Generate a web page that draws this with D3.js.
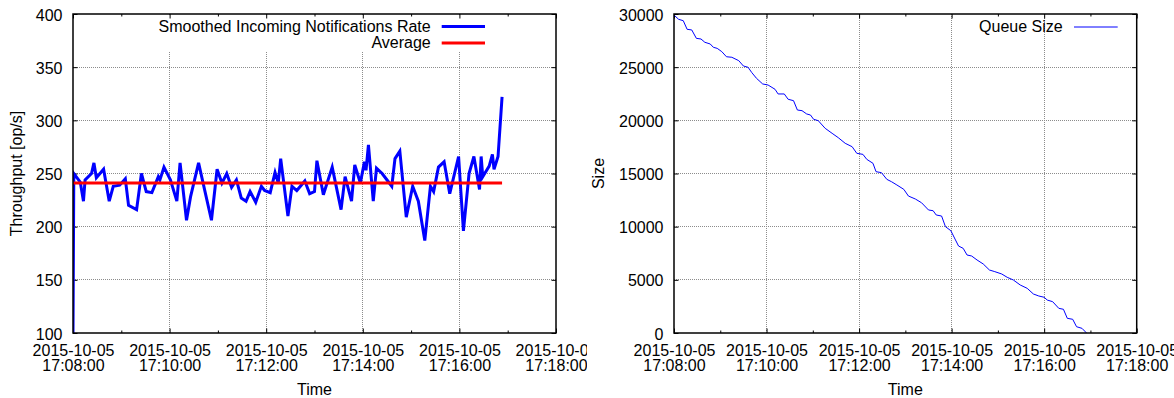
<!DOCTYPE html>
<html>
<head>
<meta charset="utf-8">
<script src="https://cdn.jsdelivr.net/npm/d3@7"></script>
<style>
    body { margin: 0; background: #fff; }
    #chart { width: 1174px; height: 398px; }
    svg { display: block; float: left; overflow: hidden; }
    text { font-family: "Liberation Sans", Arial, sans-serif; font-size: 16px; fill: #000; }
    .grid line { stroke: #8c8c8c; stroke-dasharray: 1,1; shape-rendering: crispEdges; }
    .tick line { stroke: #000; }
</style>
</head>
<body>
<div id="chart"></div>
<script>

// seconds after 17:08:00 and the smoothed rate at that moment
const rateSeconds = [0, 1, 9, 13, 15, 23, 26, 29, 38, 45, 50, 58, 65, 69, 79, 85, 91, 98, 106, 108,
    113, 121, 129, 133, 141, 146, 156, 164, 172, 179, 185, 191, 197, 203, 209, 215, 220, 227, 234, 238,
    245, 251, 255, 258, 267, 272, 278, 288, 294, 300, 303, 311, 322, 333, 338, 346, 350, 357, 362, 364,
    367, 373, 377, 384, 392, 396, 400, 406, 414, 422, 429, 437, 444, 448, 454, 461, 468, 479, 485, 492,
    498, 505, 507, 509, 517, 521, 523, 528, 533];
const rateValues = [100, 250, 242, 224, 244, 250, 260, 246, 254, 224, 238, 239, 245, 220, 216, 250, 233, 232, 247, 244,
    256, 244, 224, 260, 206, 228, 260, 233, 206, 254, 241, 250, 237, 244, 227, 224, 233, 223, 238, 234,
    232, 251, 241, 264, 210, 238, 234, 243, 231, 233, 262, 230, 256, 216, 247, 224, 258, 241, 261, 253,
    277, 224, 255, 250, 242, 238, 264, 271, 209, 238, 224, 187, 238, 233, 256, 261, 231, 266, 196, 250,
    266, 235, 266, 247, 257, 268, 254, 266, 322];
const rateAverage = 241;

// seconds after 17:08:00 and the queue size
const queueSeconds = [0, 6, 12, 17, 23, 29, 35, 40, 47, 51, 56, 62, 68, 75, 84, 90, 96, 101, 107, 115,
    122, 131, 135, 143, 148, 155, 160, 166, 172, 177, 181, 187, 196, 205, 213, 222, 231, 237, 245, 250,
    258, 262, 269, 276, 282, 289, 298, 304, 313, 321, 330, 336, 340, 347, 352, 359, 365, 369, 375, 380,
    386, 393, 401, 409, 416, 425, 432, 440, 449, 458, 466, 473, 480, 484, 491, 499, 505, 510, 517, 522,
    529, 535];
const queueValues = [29900, 29500, 29370, 28560, 28500, 27710, 27650, 27340, 27180, 26870, 26770, 26460, 25980, 25930, 25610, 25110, 24990, 24480, 23950, 23420,
    23320, 22920, 22480, 22480, 21980, 21850, 20970, 20910, 20600, 20500, 20100, 19970, 19250, 18780, 18370, 17840, 17520, 16900, 16800, 16330,
    15960, 15170, 15080, 14450, 14230, 13920, 13510, 12880, 12600, 12250, 11570, 11500, 11100, 11000, 10000, 9620, 8750, 8180, 7960, 7335,
    7240, 6865, 6490, 5925, 5770, 5550, 5240, 4985, 4514, 4200, 3670, 3480, 3360, 3100, 2945, 2320, 2230, 1380, 1290, 590,
    440, 0];

const rateTicks = [100, 150, 200, 250, 300, 350, 400];
const queueTicks = [0, 5000, 10000, 15000, 20000, 25000, 30000];

const startTime = new Date(2015, 9, 5, 17, 8, 0);
const endTime = new Date(2015, 9, 5, 17, 18, 0);

const toDate = s => new Date(startTime.getTime() + s * 1000);
const fmtDay = d3.timeFormat("%Y-%m-%d"),
      fmtTime = d3.timeFormat("%H:%M:%S");

function timePanel(opts) {

    let m = opts.plot;

    let svg = d3.select("#chart").append("svg")
        .attr("width", 587)
        .attr("height", 398);

    let x = d3.scaleTime().domain([startTime, endTime]).range([m.left, m.right]);
    let y = d3.scaleLinear().domain(d3.extent(opts.yTicks)).range([m.bottom, m.top]);

    let majorX = d3.timeMinute.every(2).range(startTime, new Date(endTime.getTime() + 1));
    let minorX = d3.timeMinute.every(1).range(startTime, new Date(endTime.getTime() + 1))
        .filter(d => d.getMinutes() % 2 === 1);

    // grid
    let grid = svg.append("g").attr("class", "grid");
    grid.selectAll(".gx").data(majorX.slice(1, -1)).enter().append("line")
        .attr("x1", d => x(d)).attr("x2", d => x(d))
        .attr("y1", m.top).attr("y2", m.bottom);
    grid.selectAll(".gy").data(opts.yTicks.slice(1, -1)).enter().append("line")
        .attr("x1", m.left).attr("x2", m.right)
        .attr("y1", d => y(d)).attr("y2", d => y(d));

    // key box hides the grid behind it
    if (opts.keyBox) {
        svg.append("rect")
            .attr("x", opts.keyBox[0]).attr("y", m.top + 1)
            .attr("width", opts.keyBox[1] - opts.keyBox[0])
            .attr("height", opts.keyBox[2] - m.top - 1)
            .attr("fill", "#fff");
    }

    // inward tick marks on all four sides
    svg.append("g").attr("transform", "translate(" + m.left + ",0)")
        .call(d3.axisLeft(y).tickValues(opts.yTicks).tickSizeInner(-4.5).tickSizeOuter(0).tickFormat(""));
    svg.append("g").attr("transform", "translate(" + m.right + ",0)")
        .call(d3.axisRight(y).tickValues(opts.yTicks).tickSizeInner(-4.5).tickSizeOuter(0).tickFormat(""));
    svg.append("g").attr("transform", "translate(0," + m.bottom + ")")
        .call(d3.axisBottom(x).tickValues(majorX).tickSizeInner(-4.5).tickSizeOuter(0).tickFormat(""));
    svg.append("g").attr("transform", "translate(0," + m.bottom + ")")
        .call(d3.axisBottom(x).tickValues(minorX).tickSizeInner(-2.5).tickSizeOuter(0).tickFormat(""));
    svg.append("g").attr("transform", "translate(0," + m.top + ")")
        .call(d3.axisTop(x).tickValues(majorX).tickSizeInner(-4.5).tickSizeOuter(0).tickFormat(""));
    svg.append("g").attr("transform", "translate(0," + m.top + ")")
        .call(d3.axisTop(x).tickValues(minorX).tickSizeInner(-2.5).tickSizeOuter(0).tickFormat(""));
    svg.selectAll(".domain").remove();

    // y tick labels
    let yAxis = svg.append("g").attr("transform", "translate(" + m.left + ",0)")
        .call(d3.axisLeft(y).tickValues(opts.yTicks).tickSize(0).tickPadding(10.5).tickFormat(d3.format("d")));
    yAxis.select(".domain").remove();
    yAxis.selectAll("text").attr("dy", "0.38em").style("font-size", "16px").style("font-family", null);

    // x tick labels, two lines each
    let xAxis = svg.append("g").attr("transform", "translate(0," + m.bottom + ")")
        .call(d3.axisBottom(x).tickValues(majorX).tickSize(0));
    xAxis.select(".domain").remove();
    xAxis.selectAll("text")
        .style("font-size", "16px").style("font-family", null)
        .attr("y", 0).attr("dy", null)
        .text(null)
        .each(function(d) {
            let t = d3.select(this);
            t.append("tspan").attr("x", 0).attr("y", 22.7).text(fmtDay(d));
            t.append("tspan").attr("x", 0).attr("y", 38).text(fmtTime(d));
        });

    // axis titles
    svg.append("text")
        .attr("x", (m.left + m.right) / 2)
        .attr("y", 395)
        .attr("text-anchor", "middle")
        .text("Time");
    svg.append("text")
        .attr("transform", "translate(" + opts.yTitleX + "," + (m.top + m.bottom) / 2 + ") rotate(-90)")
        .attr("text-anchor", "middle")
        .text(opts.yTitle);

    // data
    let clipId = "clip" + opts.id;
    svg.append("clipPath").attr("id", clipId).append("rect")
        .attr("x", m.left).attr("y", m.top - 2)
        .attr("width", m.right - m.left).attr("height", m.bottom - m.top + 2);

    let line = d3.line()
        .x(d => x(toDate(d[0])))
        .y(d => y(d[1]));

    opts.series.forEach(s => {
        svg.append("path")
            .datum(d3.zip(s.seconds, s.values))
            .attr("clip-path", "url(#" + clipId + ")")
            .attr("fill", "none")
            .attr("stroke", s.color)
            .attr("stroke-width", s.width)
            .attr("stroke-linejoin", "miter")
            .attr("d", line);
    });

    // key
    opts.series.forEach((s, i) => {
        let ky = opts.keyY[i];
        svg.append("text")
            .attr("x", opts.keyTextX)
            .attr("y", ky + 5.3)
            .attr("text-anchor", "end")
            .text(s.name);
        svg.append("line")
            .attr("x1", opts.keyLine[0]).attr("x2", opts.keyLine[1])
            .attr("y1", ky).attr("y2", ky)
            .attr("stroke", s.color)
            .attr("stroke-width", s.width);
    });

    // border
    svg.append("rect")
        .attr("x", m.left).attr("y", m.top)
        .attr("width", m.right - m.left).attr("height", m.bottom - m.top)
        .attr("fill", "none")
        .attr("stroke", "#000")
        .attr("stroke-width", 1.5);
}

timePanel({
    id: "rate",
    plot: {left: 73, right: 556, top: 14, bottom: 333},
    yTicks: rateTicks,
    yTitle: "Throughput [op/s]",
    yTitleX: 22,
    keyBox: [150, 493, 52],
    keyTextX: 430.7,
    keyLine: [441.7, 485],
    keyY: [26.5, 43],
    series: [
        {name: "Smoothed Incoming Notifications Rate", seconds: rateSeconds, values: rateValues, color: "#0000ff", width: 3},
        {name: "Average", seconds: [rateSeconds[0], rateSeconds[rateSeconds.length - 1]],
            values: [rateAverage, rateAverage], color: "#ff0000", width: 3}
    ]
});

timePanel({
    id: "queue",
    plot: {left: 87, right: 549.7, top: 14, bottom: 333},
    yTicks: queueTicks,
    yTitle: "Size",
    yTitleX: 17.3,
    keyTextX: 475.7,
    keyLine: [487, 530.7],
    keyY: [27],
    series: [
        {name: "Queue Size", seconds: queueSeconds, values: queueValues, color: "#0000ff", width: 1}
    ]
});

</script>
</body>
</html>
